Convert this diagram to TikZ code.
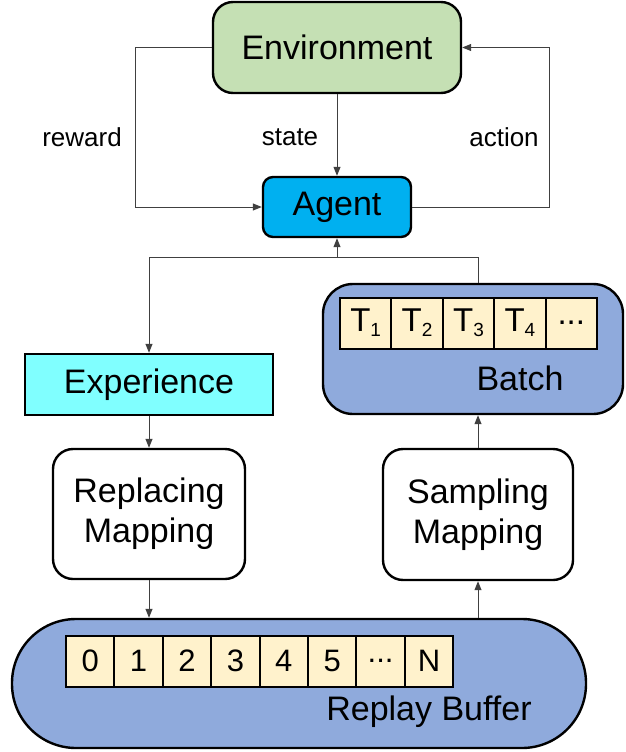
\documentclass[tikz,border=0pt]{standalone}
\usepackage{fontspec}
\setmainfont{Liberation Sans}
\usetikzlibrary{arrows.meta}
\definecolor{envgreen}{HTML}{C5E0B4}
\definecolor{agentblue}{HTML}{00B0F0}
\definecolor{expcyan}{HTML}{80FFFF}
\definecolor{bufblue}{HTML}{8FAADC}
\definecolor{cellyellow}{HTML}{FFF2CC}
\definecolor{linegray}{HTML}{404040}
\newcommand{\tsub}[1]{T\raisebox{-5pt}{\fontsize{19}{19}\selectfont #1}}
\newcommand{\etcdots}{...}
\tikzset{
  box/.style={draw=black, line width=2.4pt, align=center, inner sep=0pt, font=\fontsize{34}{40}\selectfont},
  cell/.style={draw=black, line width=2pt, fill=cellyellow, inner sep=0pt, minimum height=51pt},
  conn/.style={draw=linegray, line width=1pt},
  arr/.style={conn, -{Triangle[length=9pt,width=7pt]}},
  lbl/.style={font=\fontsize{26}{30}\selectfont},
  big/.style={font=\fontsize{34}{40}\selectfont}
}
\begin{document}
\begin{tikzpicture}[x=1pt,y=-1pt]
\useasboundingbox (0,0) rectangle (626,752);

% loop between agent and environment
\node[box, fill=envgreen, rounded corners=20pt, minimum width=248pt, minimum height=91pt] (env) at (337,47.5) {Environment};
\node[box, fill=agentblue, rounded corners=10pt, minimum width=148pt, minimum height=60pt] (agent) at (337,207) {Agent};
\draw[arr] (env.west) -- ++(-76,0) |- (agent.west);
\draw[arr] (env.south) -- (agent.north);
\draw[arr] (agent.east) -- ++(137,0) |- (env.east);
\node[lbl] (reward) at (82,137) {reward};
\node[lbl] (state) at (290,137) {state};
\node[lbl] (action) at (504,137) {action};

% left branch
\node[box, fill=expcyan, minimum width=248pt, minimum height=61pt] (exp) at (149,384.5) {Experience};
\node[box, fill=white, rounded corners=20pt, minimum width=192pt, minimum height=130pt] (repl) at (149,514) {Replacing\\Mapping};

% right branch
\node[box, fill=white, rounded corners=20pt, minimum width=190pt, minimum height=131pt] (samp) at (478,514.5) {Sampling\\Mapping};
\node[box, fill=bufblue, rounded corners=30pt, minimum width=300pt, minimum height=130pt] (batch) at (473,349) {};
\foreach \t [count=\i] in {\tsub{1},\tsub{2},\tsub{3},\tsub{4},\etcdots}
  \node[cell, minimum width=51.4pt, font=\fontsize{33}{33}\selectfont] (bc\i) at ({340+25.7+51.4*(\i-1)},323) {\t};
\node[big] (batchlbl) at (520,378) {Batch};

% replay buffer
\node[box, fill=bufblue, rounded corners=64pt, minimum width=574pt, minimum height=129pt] (buffer) at (299,683.5) {};
\foreach \t [count=\i] in {0,1,2,3,4,5,\etcdots,N}
  \node[cell, minimum width=48.4pt, font=\fontsize{31}{31}\selectfont] (rc\i) at ({66+24.2+48.4*(\i-1)},661) {\t};
\node[big] (bufferlbl) at (429,712) {Replay Buffer};

% connectors
\coordinate (split) at (337,257);
\draw[arr] (batch.north -| samp.north) |- (split) -- (agent.south);
\draw[arr] (split) -| (exp.north);
\draw[arr] (exp.south) -- (repl.north);
\draw[arr] (repl.south) -- (repl.south |- buffer.north);
\draw[arr] (samp.south |- buffer.north) -- (samp.south);
\draw[arr] (samp.north) -- (samp.north |- batch.south);
\end{tikzpicture}
\end{document}
